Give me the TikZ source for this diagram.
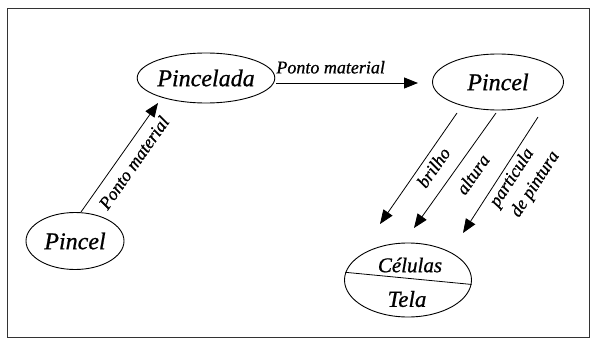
\documentclass[tikz,border=0pt]{standalone}
\usepackage{fontspec}
\setmainfont{Liberation Serif}[ItalicFeatures={FakeBold=0.8}]
\usetikzlibrary{arrows.meta,shapes.geometric}
\begin{document}
\begin{tikzpicture}[x=1pt,y=1pt,
  ell/.style={draw, ellipse, line width=0.9pt, inner sep=0pt},
  big/.style={font=\fontsize{24}{28}\selectfont\itshape},
  lab/.style={font=\fontsize{18}{23}\selectfont\itshape},
  conn/.style={line width=0.8pt, -{Triangle[length=14pt,width=11pt]}}]
\useasboundingbox (0,0) rectangle (592,-340);
\draw[line width=0.8pt, black!80] (7.5,-8.5) rectangle (589.5,-337.5);
% nodes
\node[ell, minimum width=132pt, minimum height=50pt, big] (pl) at (206,-78) {Pincelada};
\node[ell, minimum width=131pt, minimum height=56pt, big] (pr) at (498,-82) {\raisebox{-4pt}{Pincel}};
\node[ell, minimum width=98pt, minimum height=57pt, big] (pe) at (75,-241) {Pincel};
\node[ell, minimum width=127pt, minimum height=74pt] (ct) at (408,-280) {};
\node[font=\fontsize{21}{24}\selectfont\itshape] (cel) at (410,-265) {Células};
\node[font=\fontsize{23}{26}\selectfont\itshape] (tela) at (407,-299) {Tela};
\draw[line width=0.8pt] (ct.173) -- (ct.-4);
% connector ends
\coordinate (a1) at (81,-212);  \coordinate (a2) at (158,-103);
\coordinate (b1) at (276,-83);  \coordinate (b2) at (418,-83);
\coordinate (c1) at (457,-113); \coordinate (c2) at (380,-224);
\coordinate (d1) at (496,-113); \coordinate (d2) at (414,-228);
\coordinate (e1) at (538,-117); \coordinate (e2) at (463,-233);
% connectors
\draw[conn] (a1) -- node[lab, pos=0.53, rotate=55, anchor=north, inner sep=8pt] (la) {Ponto material} (a2);
\draw[conn] (b1) -- node[lab, pos=0, anchor=south west, inner xsep=0pt, inner ysep=9pt] (lb) {Ponto material} (b2);
\draw[conn] (c1) -- node[lab, pos=0.43, rotate=55, anchor=north, inner sep=5pt] (lc) {brilho} (c2);
\draw[conn] (d1) -- node[lab, pos=0.45, rotate=55, anchor=north, inner sep=10pt] (ld) {altura} (d2);
\draw[conn] (e1) -- node[lab, pos=0.43, rotate=57, anchor=north, inner sep=3pt, align=left] (le) {particula\\\hspace{3pt}de pintura} (e2);
\end{tikzpicture}
\end{document}
